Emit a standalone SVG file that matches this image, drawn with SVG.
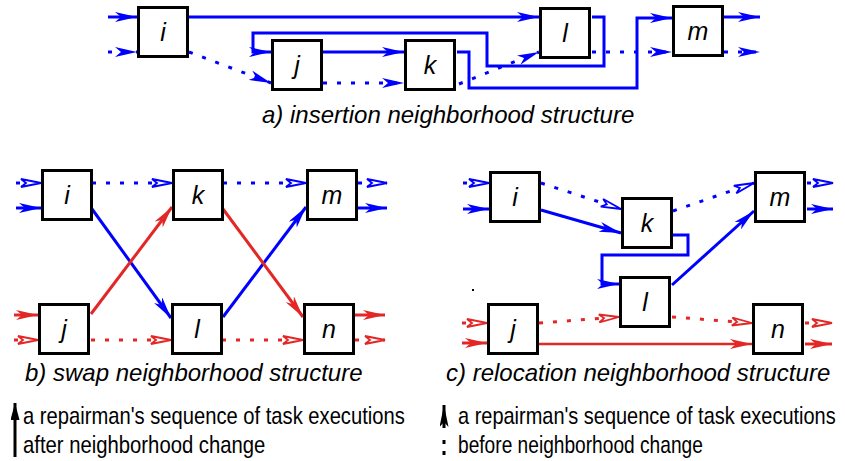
<svg xmlns="http://www.w3.org/2000/svg" width="845" height="461" viewBox="0 0 845 461">
<style>
.box{fill:#fff;stroke:#000;stroke-width:3}
.lbl{font-family:"Liberation Sans",Arial,sans-serif;font-style:italic;font-size:25px;text-anchor:middle;fill:#000}
.cap{font-family:"Liberation Sans",Arial,sans-serif;font-style:italic;font-size:24px;fill:#000}
.leg{font-family:"Liberation Sans",Arial,sans-serif;font-size:24px;fill:#000}
.b{fill:none;stroke:#0000ff;stroke-width:3}
.r{fill:none;stroke:#e32626;stroke-width:3}
.d{stroke-dasharray:4 10}
</style>
<defs>
<marker id="fb" viewBox="0 0 22 10" refX="22" refY="5" markerWidth="22" markerHeight="10" markerUnits="userSpaceOnUse" orient="auto"><path d="M22,5 L0,0 L6,5 L0,10 Z" fill="#0000ff"/></marker>
<marker id="ob" viewBox="0 0 22 10" refX="21" refY="5" markerWidth="22" markerHeight="10" markerUnits="userSpaceOnUse" orient="auto"><path d="M21,5 L1,1 L6,5 L1,9 Z" fill="#fff" stroke="#0000ff" stroke-width="1.8"/></marker>
<marker id="fr" viewBox="0 0 22 10" refX="22" refY="5" markerWidth="22" markerHeight="10" markerUnits="userSpaceOnUse" orient="auto"><path d="M22,5 L0,0 L6,5 L0,10 Z" fill="#e32626"/></marker>
<marker id="or" viewBox="0 0 22 10" refX="21" refY="5" markerWidth="22" markerHeight="10" markerUnits="userSpaceOnUse" orient="auto"><path d="M21,5 L1,1 L6,5 L1,9 Z" fill="#fff" stroke="#e32626" stroke-width="1.8"/></marker>
<marker id="fk" viewBox="0 0 17 9" refX="17" refY="4.5" markerWidth="17" markerHeight="9" markerUnits="userSpaceOnUse" orient="auto"><path d="M17,4.5 L0,0 L0,9 Z" fill="#000"/></marker>
<marker id="sk" viewBox="0 0 22 9" refX="22" refY="4.5" markerWidth="22" markerHeight="9" markerUnits="userSpaceOnUse" orient="auto"><path d="M22,4.5 L0,0 L5,4.5 L0,9 Z" fill="#000"/></marker>
</defs>

<g id="connectors">
<!-- a) insertion -->
<path class="b" d="M108,17 H137" marker-end="url(#fb)"/>
<path class="b d" d="M108,52 H137" marker-end="url(#fb)"/>
<path class="b" d="M188,17 H539" marker-end="url(#fb)"/>
<path class="b d" d="M189,52 L271,83" marker-end="url(#fb)"/>
<path class="b" d="M592,17 H604 V66 H487 V33 H253 V52 H271" marker-end="url(#fb)"/>
<path class="b" d="M323,52 H404" marker-end="url(#fb)"/>
<path class="b d" d="M323,83 H404" marker-end="url(#fb)"/>
<path class="b" d="M457,52 H469 V88 H637 V18 H672" marker-end="url(#fb)"/>
<path class="b d" d="M459,84 L539,52" marker-end="url(#fb)"/>
<path class="b d" d="M592,52 H672" marker-end="url(#fb)"/>
<path class="b" d="M724,17 H760" marker-end="url(#fb)"/>
<path class="b d" d="M724,52 H760" marker-end="url(#fb)"/>

<!-- b) swap -->
<path class="b d" d="M16,183 H41" marker-end="url(#ob)"/>
<path class="b" d="M16,208 H41" marker-end="url(#fb)"/>
<path class="b d" d="M92,183 H172" marker-end="url(#ob)"/>
<path class="b d" d="M223,183 H306" marker-end="url(#ob)"/>
<path class="b d" d="M358,183 H387" marker-end="url(#ob)"/>
<path class="b" d="M358,208 H387" marker-end="url(#fb)"/>
<path class="b" d="M92,209 L171,318" marker-end="url(#fb)"/>
<path class="b" d="M223,317 L306,207" marker-end="url(#fb)"/>
<path class="r" d="M91,314 L172,207" marker-end="url(#fr)"/>
<path class="r" d="M223,209 L303,317" marker-end="url(#fr)"/>
<path class="r" d="M14,315 H38" marker-end="url(#fr)"/>
<path class="r d" d="M14,340 H38" marker-end="url(#or)"/>
<path class="r d" d="M91,340 H171" marker-end="url(#or)"/>
<path class="r d" d="M222,340 H303" marker-end="url(#or)"/>
<path class="r" d="M355,315 H385" marker-end="url(#fr)"/>
<path class="r d" d="M355,340 H385" marker-end="url(#or)"/>

<!-- c) relocation -->
<path class="b d" d="M463,183 H489" marker-end="url(#ob)"/>
<path class="b" d="M463,209 H489" marker-end="url(#fb)"/>
<path class="b d" d="M541,183 L621,209" marker-end="url(#ob)"/>
<path class="b" d="M541,210 L621,233" marker-end="url(#fb)"/>
<path class="b d" d="M673,211 L754,183" marker-end="url(#ob)"/>
<path class="b d" d="M807,183 H833" marker-end="url(#ob)"/>
<path class="b" d="M807,209 H833" marker-end="url(#fb)"/>
<path class="b" d="M673,235 H688 V255 H602 V284 H619" marker-end="url(#fb)"/>
<path class="b" d="M672,285 L754,211" marker-end="url(#fb)"/>
<path class="r d" d="M462,323 H487" marker-end="url(#or)"/>
<path class="r" d="M462,343 H487" marker-end="url(#fr)"/>
<path class="r d" d="M539,323 L619,317" marker-end="url(#or)"/>
<path class="r d" d="M672,317 L752,323" marker-end="url(#or)"/>
<path class="r" style="stroke-width:2.5" d="M539,344 H752" marker-end="url(#fr)"/>
<path class="r d" d="M805,323 H832" marker-end="url(#or)"/>
<path class="r" d="M805,344 H832" marker-end="url(#fr)"/>
</g>

<!-- a) nodes -->
<g id="a-i"><rect class="box" x="138.5" y="7.5" width="49" height="49"/><text class="lbl" x="163" y="41">i</text></g>
<g id="a-j"><rect class="box" x="272.5" y="40.5" width="49" height="49"/><text class="lbl" x="297" y="74">j</text></g>
<g id="a-k"><rect class="box" x="405.5" y="40.5" width="49" height="49"/><text class="lbl" x="430" y="74">k</text></g>
<g id="a-l"><rect class="box" x="540.5" y="8.5" width="49" height="49"/><text class="lbl" x="565" y="42">l</text></g>
<g id="a-m"><rect class="box" x="673.5" y="6.5" width="49" height="49"/><text class="lbl" x="698" y="40">m</text></g>

<!-- b) nodes -->
<g id="b-i"><rect class="box" x="42.5" y="170.5" width="49" height="49"/><text class="lbl" x="67" y="204">i</text></g>
<g id="b-k"><rect class="box" x="173.5" y="170.5" width="49" height="49"/><text class="lbl" x="198" y="204">k</text></g>
<g id="b-m"><rect class="box" x="307.5" y="170.5" width="49" height="49"/><text class="lbl" x="332" y="204">m</text></g>
<g id="b-j"><rect class="box" x="39.5" y="304.5" width="49" height="49"/><text class="lbl" x="64" y="338">j</text></g>
<g id="b-l"><rect class="box" x="172.5" y="304.5" width="49" height="49"/><text class="lbl" x="197" y="338">l</text></g>
<g id="b-n"><rect class="box" x="304.5" y="304.5" width="49" height="49"/><text class="lbl" x="329" y="338">n</text></g>

<!-- c) nodes -->
<g id="c-i"><rect class="box" x="490.5" y="172.5" width="49" height="49"/><text class="lbl" x="515" y="206">i</text></g>
<g id="c-k"><rect class="box" x="622.5" y="198.5" width="49" height="49"/><text class="lbl" x="647" y="232">k</text></g>
<g id="c-m"><rect class="box" x="755.5" y="172.5" width="49" height="49"/><text class="lbl" x="780" y="206">m</text></g>
<g id="c-l"><rect class="box" x="620.5" y="277.5" width="49" height="49"/><text class="lbl" x="645" y="311">l</text></g>
<g id="c-j"><rect class="box" x="488.5" y="304.5" width="49" height="49"/><text class="lbl" x="513" y="338">j</text></g>
<g id="c-n"><rect class="box" x="753.5" y="304.5" width="49" height="49"/><text class="lbl" x="778" y="338">n</text></g>
<rect x="472" y="289" width="2" height="2" fill="#000"/>

<!-- captions -->
<text class="cap" x="262" y="123">a) insertion neighborhood structure</text>
<text class="cap" x="25" y="381">b) swap neighborhood structure</text>
<text class="cap" x="446" y="381">c) relocation neighborhood structure</text>

<!-- legend -->
<g id="legend">
<path d="M15,457 V403" stroke="#000" stroke-width="3" fill="none" marker-end="url(#fk)"/>
<text class="leg" transform="translate(23,424) scale(0.83,1)" x="0" y="0" textLength="460" lengthAdjust="spacingAndGlyphs">a repairman's sequence of task executions</text>
<text class="leg" transform="translate(23,453) scale(0.83,1)" x="0" y="0" textLength="292" lengthAdjust="spacingAndGlyphs">after neighborhood change</text>
<path d="M444,428 V405" stroke="#000" stroke-width="3" fill="none" marker-end="url(#sk)"/>
<rect x="442.5" y="440" width="3" height="4" fill="#000"/>
<rect x="442.5" y="451" width="3" height="4" fill="#000"/>
<text class="leg" transform="translate(458,424) scale(0.83,1)" x="0" y="0" textLength="455" lengthAdjust="spacingAndGlyphs">a repairman's sequence of task executions</text>
<text class="leg" transform="translate(458,453) scale(0.83,1)" x="0" y="0" textLength="295" lengthAdjust="spacingAndGlyphs">before neighborhood change</text>
</g>
</svg>
